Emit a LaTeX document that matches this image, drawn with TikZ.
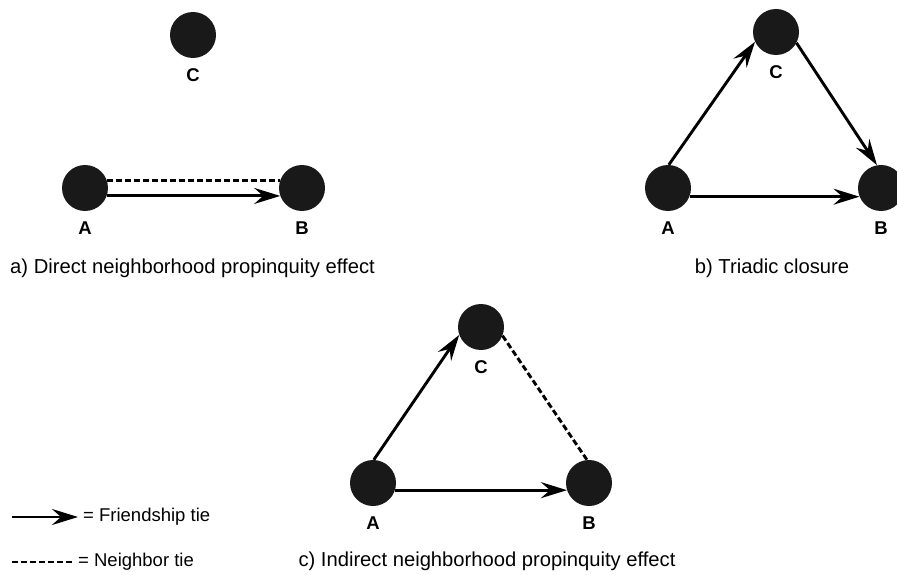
\documentclass[tikz,border=0pt]{standalone}
\usepackage{fontspec}
\setmainfont{Liberation Sans}
\usetikzlibrary{arrows.meta}
\tikzset{
  actor/.style={circle, fill=black!90, minimum size=46pt, inner sep=0pt},
  lab/.style={font=\fontsize{18.5}{19}\selectfont\bfseries, inner sep=0pt, label distance=10pt},
  caption/.style={font=\fontsize{20.2}{21}\selectfont, inner sep=0pt},
  legend/.style={font=\fontsize{18.5}{19}\selectfont, inner sep=0pt, inner xsep=5pt, anchor=west},
  friend/.style={line width=2.9pt, -{Stealth[length=26pt,width=16pt,inset=9pt]}},
  neighbor/.style={line width=2.9pt, dash pattern=on 6pt off 3pt},
}
\begin{document}
\begin{tikzpicture}[x=1pt, y=1pt]
\useasboundingbox (0,0) rectangle (897,-575);
% a) direct neighborhood propinquity
\node[actor, label={[lab]below:C}] at (193,-35) (aC) {};
\node[actor, label={[lab]below:A}] at (85,-188) (aA) {};
\node[actor, label={[lab]below:B}] at (302,-188) (aB) {};
\draw[neighbor] (aA.18) -- (aB.162);
\draw[friend] (aA.-20) -- (aB.200);
\node[caption, anchor=west] at (10,-268) (capa) {a) Direct neighborhood propinquity effect};
% b) triadic closure
\node[actor, label={[lab]below:C}] at (776,-32) (bC) {};
\node[actor, label={[lab]below:A}] at (668,-188) (bA) {};
\node[actor, label={[lab]below:B}] at (881,-188) (bB) {};
\draw[friend] (bA.88) -- (bC.205);
\draw[friend] (bC.-28) -- (bB.100);
\draw[friend] (bA.-22) -- (bB.202);
\node[caption] at (772,-268) (capb) {b) Triadic closure};
% c) indirect neighborhood propinquity
\node[actor, label={[lab]below:C}] at (481,-327) (cC) {};
\node[actor, label={[lab]below:A}] at (373,-483) (cA) {};
\node[actor, label={[lab]below:B}] at (589,-483) (cB) {};
\draw[friend] (cA.88) -- (cC.200);
\draw[neighbor] (cC.-22) -- (cB.95);
\draw[friend] (cA.-18) -- (cB.198);
\node[caption] at (487,-561) (capc) {c) Indirect neighborhood propinquity effect};
% legend
\coordinate (fs) at (12,-517);
\node[legend] at (78,-517) (ftie) {= Friendship tie};
\draw[friend] (fs) -- (ftie.west);
\coordinate (ns) at (12,-562);
\node[legend] at (73,-562) (ntie) {= Neighbor tie};
\draw[neighbor] (ns) -- (ntie.west);
\end{tikzpicture}
\end{document}
